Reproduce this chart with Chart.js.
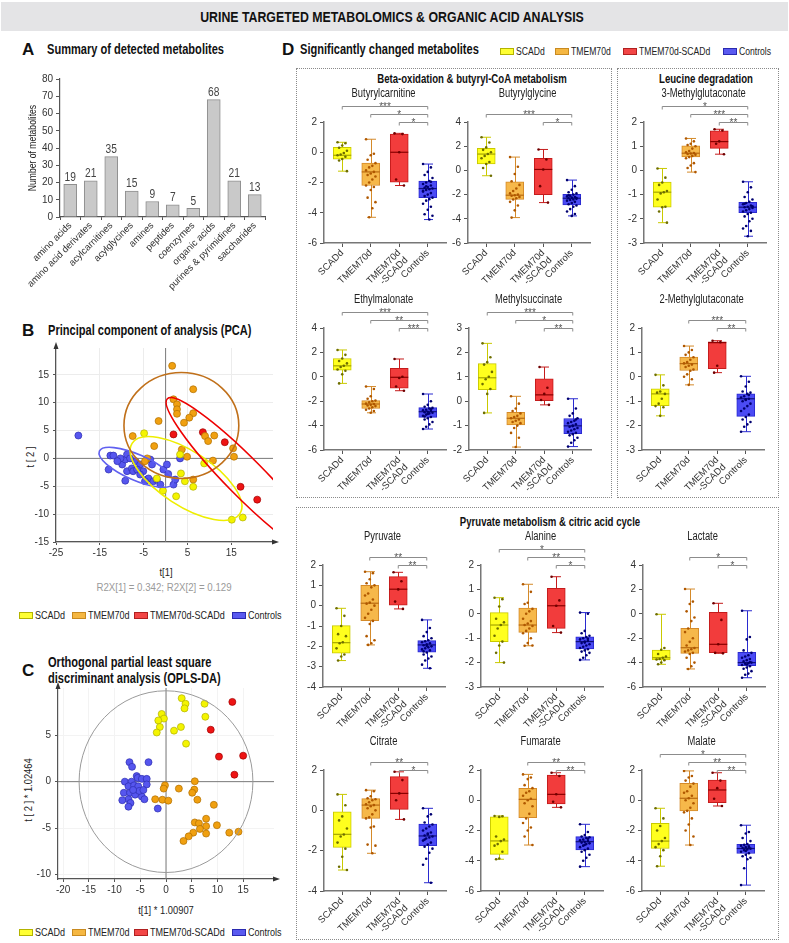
<!DOCTYPE html>
<html>
<head>
<meta charset="utf-8">
<script src="https://cdn.jsdelivr.net/npm/chart.js@4.4.1/dist/chart.umd.min.js"></script>
<style>
body { margin: 0; background: #fff; }
#page { position: relative; width: 789px; height: 943px; overflow: hidden; background: #fff;
  font-family: 'Liberation Sans', Arial, sans-serif; color: #111; }
canvas { position: absolute; }
.t { position: absolute; white-space: nowrap; line-height: 1; }
.sw { position: absolute; box-sizing: border-box; }
.box { position: absolute; border: 1px dotted #8a8a8a; box-sizing: border-box; }
</style>
</head>
<body>
<div id="page"></div>
<script>
// ---------- data ----------
const groupNames = ['SCADd', 'TMEM70d', 'TMEM70d-SCADd', 'Controls'];
const groupTicks = ['SCADd', 'TMEM70d', ['TMEM70d', '-SCADd'], 'Controls'];

// A: summary of detected metabolites
const classNames = ['amino acids', 'amino acid derivates', 'acylcarnitines', 'acylglycines', 'amines',
  'peptides', 'coenzymes', 'organic acids', 'purines & pyrimidines', 'saccharides'];
const classCounts = [19, 21, 35, 15, 9, 7, 5, 68, 21, 13];

// B: PCA scores t[1], t[2]
const pcaScad = [[-4.9,4.5],[3.3,0.7],[3.5,-2.7],[4.4,-4.1],[6.3,-5.1],[-0.6,-5.8],[2.4,-6.8],[8.8,-0.9],[15.1,-11],[17.6,-10.6],[-2,-3.6]];
const pcaTmem = [[1.5,16.6],[6.3,12.4],[1.8,10.6],[2.6,9.7],[2.6,8.8],[2.6,8],[6.3,8.1],[5.4,7.3],[4.2,6.4],[-1.6,6.7],[-7.5,4],[9,4],[11.1,4.1],[9.7,3.1],[-2.6,2.2],[3.7,1.6],[4.9,0.3],[15.4,1.8],[15.6,0.3],[-4.2,0],[-4.7,-0.5],[6.3,-3.8],[10.8,-0.4]];
const pcaTmemScad = [[1.8,4.3],[8.5,4.7],[13.5,2.9],[17.1,-5.1],[20.9,-7.4]];
const pcaCtrl = [[-19.9,4.1],[-12.6,0.5],[-11.9,0.5],[-13,-2],[-9.9,-1.1],[-9.2,-0.2],[-8.8,0.7],[-8.8,-2.3],[-9.2,-4.0],[-7.7,-1.8],[-7.4,-2.3],[-6.9,-0.5],[-5.8,-1.1],[-5.1,-2.3],[-4.3,-3.8],[-3.5,-0.2],[-3.1,-1.1],[-3.9,-3.6],[-2.8,-4.1],[-2,-3.8],[-1.2,-4.7],[-0.5,-2],[0.3,-1.1],[0.6,-2.8],[1.8,-4.7],[2.2,-3.8],[3.3,0],[-8.1,0],[-6.5,-2],[-5.8,-2.9],[-4.7,-4.1],[-10.3,0],[-11,-0.5]];
// group ellipses: centre and two semi-axis vectors, in score units
const pcaEllipseScad = [4.66, -3.6, 12.3, -6.3, -3.3, -4.1];
const pcaEllipseTmem = [3.6, 5.9, 13.1, 0, 0, 9.5];
const pcaEllipseTmemScad = [18.1, -3.4, 17.7, -14.1, 3.05, 2.4];
const pcaEllipseCtrl = [-6.7, -1.6, 8.4, -2.9, -1.2, -2.1];

// C: OPLS-DA scores
const oplsScad = [[3.05,9.0],[3.8,8.4],[3.6,7.9],[7.5,8.4],[7.65,7.0],[-0.84,7.3],[-0.4,6.8],[-1.5,6.6],[-1.2,5.9],[-1.8,5.3],[1.56,5.5],[2.9,5.9],[3.9,4.1]];
const oplsTmem = [[5.6,0.04],[-0.2,-0.4],[-0.45,-0.75],[2.5,-0.75],[5.5,-0.86],[5.1,-1.2],[-2.1,-1.9],[-0.7,-1.95],[0.45,-2.05],[6.1,-1.95],[9.3,-2.5],[5.6,-4.4],[6.4,-4.5],[7.8,-4.0],[7.8,-4.8],[9.9,-4.7],[6.6,-5.1],[7.8,-5.6],[5.3,-5.5],[4.4,-5.9],[3.4,-6.4],[12.3,-5.5],[14.1,-5.4]];
const oplsTmemScad = [[12.9,8.6],[8.7,5.6],[10.3,2.7],[15.0,2.8],[13.3,0.75]];
const oplsCtrl = [[-7.1,2.1],[-3.4,2.1],[-6.6,1.6],[-5.7,0.6],[-5.5,0.4],[-4.7,0.3],[-3.75,0.3],[-8.0,0.0],[-6.7,0.0],[-3.75,-0.3],[-7.3,-0.5],[-6.2,-0.4],[-5.4,-0.5],[-8.2,-1.2],[-7.0,-1.2],[-6.0,-1.4],[-4.7,-1.6],[-7.3,-1.9],[-8.5,-2.0],[-6.9,-2.3],[-7.3,-2.7],[-4.2,-1.9],[-1.6,-2.9],[-5.2,-1.0],[-6.4,-0.9],[-4.4,-0.9]];
const oplsEllipse = [0, 0, 16.9, 0, 0, 9.8];

// D: box stats per group [min, q1, median, q3, max] and individual values
const butyrylcarnitineBox = [[-1.25,-0.45,-0.2,0.33,0.66],[-4.3,-2.2,-1.3,-0.72,0.86],[-2.2,-1.97,0.0,1.2,1.25],[-4.45,-3.0,-2.4,-1.9,-0.78]];
const butyrylcarnitineDots = [
  [0.66,0.6,0.45,0.3,0.1,-0.05,-0.15,-0.2,-0.3,-0.45,-0.55,-1.25],
  [0.86,-0.1,-0.2,-0.5,-0.72,-0.9,-1.0,-1.2,-1.3,-1.4,-1.5,-1.6,-1.8,-2.0,-2.2,-2.3,-2.5,-3.0,-3.3,-3.7,-4.3],
  [1.25,1.2,0.0,-1.8,-2.2],
  [-0.78,-1.0,-1.3,-1.5,-1.7,-1.9,-2.0,-2.1,-2.2,-2.3,-2.35,-2.4,-2.45,-2.5,-2.6,-2.7,-2.8,-2.9,-3.0,-3.1,-3.2,-3.4,-3.6,-3.8,-4.1,-4.2,-4.45,-2.25,-2.55,-1.95]];
const butyrylglycineBox = [[-0.44,0.53,1.35,1.83,2.74],[-3.9,-2.39,-2.05,-0.94,1.1],[-2.66,-2.0,0.08,0.99,1.73],[-3.76,-2.85,-2.3,-1.97,-0.8]];
const butyrylglycineDots = [
  [2.74,2.3,1.9,1.7,1.5,1.35,1.2,1.0,0.7,0.53,0.2,-0.44],
  [1.1,0.3,-0.3,-0.9,-1.2,-1.5,-1.7,-1.9,-2.0,-2.05,-2.1,-2.2,-2.3,-2.4,-2.6,-2.9,-3.3,-3.9],
  [1.73,0.9,0.08,-1.3,-2.66],
  [-0.8,-1.3,-1.6,-1.8,-1.9,-2.0,-2.1,-2.15,-2.2,-2.25,-2.3,-2.35,-2.4,-2.45,-2.5,-2.6,-2.7,-2.8,-2.9,-3.0,-3.2,-3.4,-3.6,-3.76,-2.05,-2.28]];
const methylglutaconate3Box = [[-2.16,-1.52,-0.9,-0.48,0.08],[-0.07,0.56,0.71,1.02,1.32],[0.67,0.91,1.19,1.63,1.7],[-2.72,-1.75,-1.52,-1.32,-0.47]];
const methylglutaconate3Dots = [
  [0.08,-0.3,-0.5,-0.6,-0.85,-0.9,-0.95,-1.2,-1.5,-1.52,-1.7,-2.16],
  [1.32,1.2,1.1,1.05,1.0,0.9,0.8,0.75,0.72,0.7,0.68,0.65,0.6,0.55,0.5,0.3,0.2,0.1,-0.07],
  [1.7,1.65,1.2,1.1,0.67],
  [-0.47,-0.7,-0.9,-1.1,-1.2,-1.3,-1.35,-1.4,-1.45,-1.5,-1.52,-1.55,-1.6,-1.65,-1.7,-1.75,-1.8,-1.9,-2.0,-2.1,-2.3,-2.4,-2.5,-2.72,-1.38,-1.48]];
const ethylmalonateBox = [[-0.54,0.55,0.9,1.5,2.2],[-2.95,-2.6,-2.23,-1.95,-0.8],[-1.14,-0.94,-0.04,0.7,1.46],[-4.28,-3.32,-2.86,-2.53,-1.41]];
const ethylmalonateDots = [
  [2.2,1.8,1.5,1.3,1.1,0.9,0.8,0.6,0.5,0.2,-0.54],
  [-0.8,-1.0,-1.6,-1.8,-1.95,-2.0,-2.1,-2.2,-2.23,-2.3,-2.35,-2.4,-2.5,-2.6,-2.7,-2.8,-2.95],
  [1.46,0.0,-0.1,-0.8,-1.14],
  [-1.41,-2.0,-2.3,-2.45,-2.55,-2.6,-2.7,-2.75,-2.8,-2.86,-2.9,-2.95,-3.0,-3.1,-3.2,-3.3,-3.4,-3.5,-3.7,-3.9,-4.1,-4.28,-2.65,-3.05,-3.25]];
const methylsuccinateBox = [[-0.48,0.47,0.96,1.54,2.37],[-1.88,-0.97,-0.7,-0.46,0.2],[-0.15,0.02,0.26,0.92,1.4],[-1.86,-1.33,-1.01,-0.71,0.1]];
const methylsuccinateDots = [
  [2.37,1.8,1.6,1.5,1.2,1.0,0.9,0.7,0.5,0.3,-0.48],
  [0.2,-0.1,-0.3,-0.4,-0.5,-0.6,-0.65,-0.7,-0.75,-0.8,-0.85,-0.9,-1.0,-1.1,-1.3,-1.5,-1.88],
  [1.4,0.55,0.3,0.05,-0.15],
  [0.1,-0.3,-0.5,-0.6,-0.7,-0.8,-0.85,-0.9,-0.95,-1.0,-1.05,-1.1,-1.15,-1.2,-1.25,-1.3,-1.35,-1.4,-1.5,-1.6,-1.7,-1.86,-0.75,-1.02]];
const methylglutaconate2Box = [[-1.6,-1.18,-0.7,-0.49,0.08],[-0.33,0.26,0.54,0.81,1.26],[0.17,0.33,1.4,1.43,1.48],[-2.25,-1.62,-0.9,-0.7,0.02]];
const methylglutaconate2Dots = [
  [0.08,-0.35,-0.6,-0.65,-0.7,-0.9,-1.1,-1.2,-1.25,-1.6],
  [1.26,1.1,1.0,0.9,0.8,0.7,0.6,0.55,0.5,0.45,0.4,0.3,0.25,0.1,0.0,-0.1,-0.33],
  [1.48,1.42,0.45,0.17],
  [0.02,-0.2,-0.4,-0.6,-0.65,-0.7,-0.8,-0.85,-0.9,-0.95,-1.0,-1.1,-1.2,-1.3,-1.4,-1.55,-1.65,-1.75,-1.85,-1.95,-2.05,-2.25,-0.75,-0.92]];
const pyruvateBox = [[-2.7,-2.34,-1.82,-0.98,-0.13],[-1.93,-0.74,0.12,1.0,1.67],[-0.16,0.03,0.81,1.43,1.64],[-3.08,-2.29,-1.93,-1.72,-0.7]];
const pyruvateDots = [
  [-0.13,-0.5,-1.0,-1.4,-1.5,-1.8,-1.85,-2.1,-2.4,-2.5,-2.7],
  [1.67,1.6,1.3,1.1,1.0,0.9,0.6,0.5,0.3,0.15,0.1,0.0,-0.2,-0.4,-0.6,-0.75,-0.9,-1.5,-1.7,-1.85,-1.93],
  [1.64,1.2,0.8,0.2,-0.16],
  [-0.7,-1.1,-1.3,-1.5,-1.6,-1.7,-1.75,-1.8,-1.85,-1.9,-1.95,-2.0,-2.05,-2.1,-2.15,-2.2,-2.3,-2.4,-2.5,-2.6,-2.7,-2.9,-3.08,-1.98,-2.25]];
const alanineBox = [[-2.0,-1.14,-0.46,0.05,0.66],[-1.31,-0.76,-0.46,0.23,1.21],[-0.77,-0.6,0.33,1.04,1.52],[-1.89,-1.44,-1.14,-0.94,0.05]];
const alanineDots = [
  [0.66,0.6,0.3,-0.2,-0.35,-0.46,-0.6,-0.9,-1.14,-1.3,-1.6,-2.0],
  [1.21,0.9,0.45,0.4,0.2,0.1,0.0,-0.2,-0.3,-0.4,-0.46,-0.5,-0.6,-0.7,-0.8,-1.0,-1.2,-1.31,-1.3],
  [1.52,0.55,0.33,-0.5,-0.77],
  [0.05,0.0,-0.7,-0.8,-0.9,-0.95,-1.0,-1.05,-1.1,-1.14,-1.2,-1.25,-1.3,-1.35,-1.4,-1.45,-1.5,-1.55,-1.6,-1.7,-1.8,-1.89,-1.02,-1.18]];
const lactateBox = [[-4.14,-3.79,-3.6,-2.97,-0.04],[-4.52,-3.24,-2.78,-1.19,2.03],[-3.24,-3.19,-2.5,0.12,0.86],[-5.24,-4.25,-4.0,-3.16,0.25]];
const lactateDots = [
  [-0.04,-2.8,-2.95,-3.3,-3.5,-3.6,-3.7,-3.75,-3.8,-4.0,-4.14],
  [2.03,1.0,0.8,0.2,-0.3,-0.6,-1.2,-1.5,-2.0,-2.3,-2.6,-2.8,-2.9,-3.0,-3.1,-3.2,-3.3,-3.6,-4.0,-4.3,-4.52],
  [0.86,-0.5,-2.5,-3.2,-3.24],
  [0.25,-1.9,-2.1,-3.0,-3.2,-3.4,-3.5,-3.6,-3.7,-3.8,-3.9,-4.0,-4.05,-4.1,-4.2,-4.3,-4.4,-4.5,-4.7,-4.9,-5.0,-5.24,-3.95,-4.15]];
const citrateBox = [[-2.96,-1.84,-1.19,-0.07,0.79],[-2.13,-0.4,0.26,0.58,1.0],[-0.45,0.05,0.84,1.67,1.91],[-3.59,-1.75,-1.27,-0.68,0.1]];
const citrateDots = [
  [0.79,0.25,-0.3,-0.5,-0.9,-1.2,-1.3,-1.6,-1.9,-2.3,-2.8,-2.96],
  [1.0,0.95,0.7,0.6,0.55,0.5,0.4,0.3,0.26,0.2,0.1,0.0,-0.2,-0.35,-0.4,-0.8,-0.85,-1.7,-1.75,-2.13],
  [1.91,1.5,0.84,0.5,-0.45],
  [0.1,-0.2,-0.3,-0.6,-0.7,-0.8,-0.9,-1.0,-1.1,-1.2,-1.25,-1.3,-1.35,-1.4,-1.5,-1.6,-1.7,-1.8,-1.9,-2.1,-2.4,-2.7,-3.59,-1.15,-1.45]];
const fumarateBox = [[-3.9,-3.58,-2.69,-1.09,-1.04],[-2.96,-1.15,0.06,0.79,1.71],[-0.47,-0.25,0.39,1.67,1.82],[-4.39,-3.29,-2.74,-2.41,-1.59]];
const fumarateDots = [
  [-1.04,-1.06,-1.1,-2.4,-2.6,-2.7,-2.9,-3.0,-3.4,-3.85,-3.9],
  [1.71,1.5,1.4,1.0,0.8,0.6,0.5,0.3,0.1,0.0,-0.2,-0.4,-0.9,-1.2,-1.5,-1.8,-2.0,-2.4,-2.96],
  [1.82,1.6,0.4,-0.1,-0.47],
  [-1.59,-2.1,-2.3,-2.4,-2.45,-2.5,-2.6,-2.65,-2.7,-2.75,-2.8,-2.85,-2.9,-3.0,-3.1,-3.2,-3.3,-3.4,-3.6,-3.8,-4.0,-4.39,-2.55,-2.95]];
const malateBox = [[-4.36,-3.19,-2.7,-1.53,-0.53],[-2.96,-0.71,0.13,1.12,1.94],[-0.38,-0.16,0.68,1.34,1.82],[-5.61,-3.52,-3.19,-2.92,-1.65]];
const malateDots = [
  [-0.53,-1.2,-1.7,-2.0,-2.5,-2.7,-2.9,-3.1,-3.3,-3.7,-4.36],
  [1.94,1.6,1.5,1.3,1.1,0.9,0.6,0.5,0.3,0.13,0.0,-0.2,-0.5,-0.7,-0.8,-1.2,-1.6,-2.0,-2.4,-2.96],
  [1.82,1.3,0.8,0.1,-0.38],
  [-1.65,-2.1,-2.2,-2.5,-2.7,-2.9,-2.95,-3.0,-3.05,-3.1,-3.15,-3.2,-3.25,-3.3,-3.4,-3.5,-3.6,-3.7,-3.8,-3.9,-4.5,-5.61,-3.12,-3.35]];

// significance brackets: [from group, to group, stars], top one first
const butyrylcarnitineSig = [[0,3,'***'],[1,3,'*'],[2,3,'*']];
const butyrylglycineSig = [[0,3,'***'],[2,3,'*']];
const methylglutaconate3Sig = [[0,3,'*'],[1,3,'***'],[2,3,'**']];
const ethylmalonateSig = [[0,3,'***'],[1,3,'**'],[2,3,'***']];
const methylsuccinateSig = [[0,3,'***'],[1,3,'*'],[2,3,'**']];
const methylglutaconate2Sig = [[1,3,'***'],[2,3,'**']];
const pyruvateSig = [[1,3,'**'],[2,3,'**']];
const alanineSig = [[0,3,'*'],[1,3,'**'],[2,3,'*']];
const lactateSig = [[1,3,'*'],[2,3,'*']];
const citrateSig = [[1,3,'**'],[2,3,'*']];
const fumarateSig = [[1,3,'**'],[2,3,'**']];
const malateSig = [[0,3,'*'],[1,3,'**'],[2,3,'**']];

// ---------- styles ----------
const FONT = "'Liberation Sans', Arial, sans-serif";
const boxFill = ['#ffff1e', '#f6b84a', '#f23c3c', '#4b4bf5'];
const boxLine = ['#c9c900', '#d48a2a', '#c41c1c', '#2a2ad0'];
const medianLine = ['#a5a500', '#b86a10', '#8a0000', '#10107a'];
const dotColors = ['#6e6e00', '#b05800', '#700000', '#000070'];
const pcaFill = ['#f4f400', '#f0a010', '#ee1414', '#5656ee'];
const pcaEdge = ['#b0b000', '#b06e00', '#a00000', '#2e2eb0'];
const ellipseColors = ['#eeee00', '#c0701a', '#ee0000', '#6060f0'];
const legendFill = ['#ffff33', '#f5b742', '#f24646', '#5a5af0'];
const legendEdge = ['#b3b300', '#c88a20', '#b02020', '#2a2ab0'];
const axisCol = '#555';

Chart.defaults.font.family = FONT;
Chart.defaults.color = '#333';

const page = document.getElementById('page');

function addCanvas(left, top, w, h) {
  const c = document.createElement('canvas');
  c.width = w; c.height = h;
  c.style.left = left + 'px'; c.style.top = top + 'px';
  c.style.width = w + 'px'; c.style.height = h + 'px';
  page.appendChild(c);
  return c;
}

// narrow look: squeeze the text horizontally
function txt(s, x, y, css, align, k) {
  k = k || 0.8;
  const d = document.createElement('div');
  d.className = 't';
  d.textContent = s;
  d.style.left = x + 'px';
  d.style.top = y + 'px';
  if (align === 'c') {
    d.style.transform = `translate(-50%,-50%) scaleX(${k})`;
  } else if (align === 'rot') {
    d.style.transform = `translate(-50%,-50%) rotate(-90deg) scaleX(${k})`;
  } else {
    d.style.transformOrigin = 'left center';
    d.style.transform = `translateY(-50%) scaleX(${k})`;
  }
  if (css) d.style.cssText += css;
  page.appendChild(d);
  return d;
}

function narrowText(ctx, s, x, y, k) {
  ctx.save();
  ctx.translate(x, y);
  ctx.scale(k, 1);
  ctx.fillText(s, 0, 0);
  ctx.restore();
}

function swatch(x, y, w, h, fill, edge) {
  const d = document.createElement('div');
  d.className = 'sw';
  d.style.cssText += `left:${x}px;top:${y}px;width:${w}px;height:${h}px;background:${fill};border:1px solid ${edge};`;
  page.appendChild(d);
}

function legendRow(xs, y, size) {
  groupNames.forEach((g, i) => {
    swatch(xs[i], y - 3, 14, 7, legendFill[i], legendEdge[i]);
    txt(g, xs[i] + 16, y, `font-size:${size}px;color:#222;`, 'l', 0.82);
  });
}

// ---------- page text ----------
const bar = document.createElement('div');
bar.style.cssText = 'position:absolute;left:1px;top:2px;width:787px;height:29px;background:#e4e4e6;';
page.appendChild(bar);
txt('URINE TARGETED METABOLOMICS & ORGANIC ACID ANALYSIS', 392, 17, 'font-weight:bold;font-size:14.5px;color:#111;', 'c', 0.85);

const letterCss = "font-weight:bold;font-size:17px;color:#111;";
const headCss = 'font-weight:bold;font-size:14px;color:#111;';
txt('A', 22, 49, letterCss, 'l', 1);
txt('Summary of detected metabolites', 47, 49, headCss, 'l', 0.79);
txt('B', 22, 330, letterCss, 'l', 1);
txt('Principal component of analysis (PCA)', 48, 330, headCss, 'l', 0.79);
txt('C', 22, 670, letterCss, 'l', 1);
txt('Orthogonal partial least square', 48, 662, headCss, 'l', 0.79);
txt('discriminant analysis (OPLS-DA)', 48, 678, headCss, 'l', 0.79);
txt('D', 282, 49, letterCss, 'l', 1);
txt('Significantly changed metabolites', 300, 49, headCss, 'l', 0.79);

txt('t[1]', 166, 572, 'font-size:11px;color:#222;', 'c', 0.85);
txt('R2X[1] = 0.342; R2X[2] = 0.129', 164, 587, 'font-size:11px;color:#9a9a9a;', 'c', 0.88);
txt('t [ 2 ]', 30, 457, 'font-size:11px;color:#222;', 'rot', 0.85);
txt('t[1] * 1.00907', 166, 910, 'font-size:11px;color:#222;', 'c', 0.85);
txt('t [ 2 ] * 1.02464', 28, 790, 'font-size:11px;color:#222;', 'rot', 0.85);
legendRow([19, 72, 134, 232], 615, 11);
legendRow([19, 72, 134, 232], 932, 11);
legendRow([500, 555, 623, 723], 51, 10.5);

function dashedBox(x1, y1, x2, y2) {
  const d = document.createElement('div');
  d.className = 'box';
  d.style.cssText += `left:${x1}px;top:${y1}px;width:${x2 - x1}px;height:${y2 - y1}px;`;
  page.appendChild(d);
}
dashedBox(296, 68, 612, 498);
dashedBox(617, 68, 779, 498);
dashedBox(296, 507, 779, 940);
const secCss = 'font-weight:bold;font-size:12px;color:#111;';
txt('Beta-oxidation & butyryl-CoA metabolism', 472, 79, secCss, 'c', 0.8);
txt('Leucine degradation', 706, 79, secCss, 'c', 0.8);
txt('Pyruvate metabolism & citric acid cycle', 550, 522, secCss, 'c', 0.8);

// ---------- A: bar chart ----------
new Chart(addCanvas(0, 70, 278, 225), {
  type: 'bar',
  data: {
    labels: classNames,
    datasets: [{ data: classCounts, backgroundColor: '#c9c9c9', borderColor: '#8e8e8e', borderWidth: 1, borderSkipped: 'bottom', barThickness: 13 }]
  },
  options: {
    responsive: false, animation: false, events: [],
    layout: { padding: { top: 8, right: 13, left: 0, bottom: 0 } },
    plugins: { legend: { display: false }, tooltip: { enabled: false } },
    scales: {
      x: {
        afterFit: s => { s.height = 78; },
        grid: { drawOnChartArea: false, tickLength: 3, color: axisCol },
        border: { color: axisCol, width: 1.2 },
        ticks: { autoSkip: false, maxRotation: 45, minRotation: 45, font: { size: 9.5 }, color: '#333', padding: 0 }
      },
      y: {
        min: 0, max: 80,
        afterFit: s => { s.width = 60; },
        grid: { drawOnChartArea: false, tickLength: 4, color: axisCol },
        border: { color: axisCol, width: 1.2 },
        ticks: { stepSize: 10, font: { size: 10 }, color: '#333', padding: 3 }
      }
    }
  },
  plugins: [{
    id: 'barDecor',
    afterDatasetsDraw(chart) {
      const { ctx } = chart;
      ctx.save();
      ctx.font = `12px ${FONT}`;
      ctx.fillStyle = '#444';
      ctx.textAlign = 'center';
      ctx.textBaseline = 'bottom';
      chart.getDatasetMeta(0).data.forEach((el, i) => narrowText(ctx, String(classCounts[i]), el.x, el.y - 1, 0.85));
      ctx.translate(33, (chart.chartArea.top + chart.chartArea.bottom) / 2);
      ctx.rotate(-Math.PI / 2);
      ctx.font = `11px ${FONT}`;
      ctx.fillStyle = '#222';
      ctx.textBaseline = 'middle';
      narrowText(ctx, 'Number of metabolites', 0, 0, 0.78);
      ctx.restore();
    }
  }]
});

// ---------- B & C: score plots ----------
function drawEllipse(chart, e, color, width) {
  const { ctx, chartArea: a, scales: { x, y } } = chart;
  const cx = x.getPixelForValue(e[0]), cy = y.getPixelForValue(e[1]);
  const ax = x.getPixelForValue(e[0] + e[2]) - cx, ay = y.getPixelForValue(e[1] + e[3]) - cy;
  const bx = x.getPixelForValue(e[0] + e[4]) - cx, by = y.getPixelForValue(e[1] + e[5]) - cy;
  ctx.save();
  ctx.beginPath();
  ctx.rect(a.left, a.top, a.right - a.left, a.bottom - a.top);
  ctx.clip();
  ctx.beginPath();
  ctx.save();
  ctx.transform(ax, ay, bx, by, cx, cy);
  ctx.arc(0, 0, 1, 0, Math.PI * 2);
  ctx.restore();
  ctx.strokeStyle = color;
  ctx.lineWidth = width;
  ctx.stroke();
  ctx.restore();
}

function scorePlot(canvas, sets, xr, yr, xTicks, yTicks, xw, xh, ellipses, ellipseCols, ellipseWidth, gridCol) {
  new Chart(canvas, {
    type: 'scatter',
    data: {
      datasets: sets.map((d, i) => ({
        data: d, pointRadius: 3.5, pointBorderWidth: 0.7,
        pointBackgroundColor: pcaFill[i], pointBorderColor: pcaEdge[i]
      }))
    },
    options: {
      responsive: false, animation: false, events: [],
      layout: { padding: { top: 10, right: canvas.width - xw[1], left: 0, bottom: 0 } },
      plugins: { legend: { display: false }, tooltip: { enabled: false } },
      scales: {
        x: {
          type: 'linear', min: xr[0], max: xr[1],
          afterBuildTicks: s => { s.ticks = xTicks.map(v => ({ value: v })); },
          afterFit: s => { s.height = xh; },
          grid: { color: gridCol, tickColor: axisCol, tickLength: 3 },
          border: { color: axisCol, width: 1.2 },
          ticks: { font: { size: 10 }, color: '#333', padding: 2 }
        },
        y: {
          min: yr[0], max: yr[1],
          afterBuildTicks: s => { s.ticks = yTicks.map(v => ({ value: v })); },
          afterFit: s => { s.width = xw[0]; },
          grid: { color: gridCol, tickColor: axisCol, tickLength: 3 },
          border: { color: axisCol, width: 1.2 },
          ticks: { font: { size: 10 }, color: '#333', padding: 4 }
        }
      }
    },
    plugins: [{
      id: 'scoreDecor',
      beforeDatasetsDraw(chart) {
        const { ctx, chartArea: a, scales: { x, y } } = chart;
        const x0 = x.getPixelForValue(0), y0 = y.getPixelForValue(0);
        ctx.save();
        ctx.strokeStyle = '#7a7a7a';
        ctx.lineWidth = 1;
        ctx.beginPath();
        ctx.moveTo(x0, a.top); ctx.lineTo(x0, a.bottom);
        ctx.moveTo(a.left, y0); ctx.lineTo(a.right, y0);
        ctx.stroke();
        ctx.restore();
      },
      afterDatasetsDraw(chart) {
        ellipses.forEach((e, i) => drawEllipse(chart, e, ellipseCols[i], ellipseWidth));
      },
      afterDraw(chart) {
        const { ctx, chartArea: a } = chart;
        ctx.save();
        ctx.fillStyle = '#333';
        ctx.beginPath();
        ctx.moveTo(a.left, a.top - 6); ctx.lineTo(a.left - 2.5, a.top + 1); ctx.lineTo(a.left + 2.5, a.top + 1);
        ctx.closePath(); ctx.fill();
        ctx.beginPath();
        ctx.moveTo(a.right + 6, a.bottom); ctx.lineTo(a.right - 1, a.bottom - 2.5); ctx.lineTo(a.right - 1, a.bottom + 2.5);
        ctx.closePath(); ctx.fill();
        ctx.restore();
      }
    }]
  });
}

scorePlot(addCanvas(0, 338, 282, 230), [pcaScad, pcaTmem, pcaTmemScad, pcaCtrl],
  [-25, 24.5], [-15, 19.8], [-25, -15, -5, 5, 15], [-15, -10, -5, 0, 5, 10, 15],
  [56, 273], 26,
  [pcaEllipseCtrl, pcaEllipseScad, pcaEllipseTmem, pcaEllipseTmemScad],
  [ellipseColors[3], ellipseColors[0], ellipseColors[1], ellipseColors[2]], 1.6, '#ececec');

scorePlot(addCanvas(0, 678, 282, 228), [oplsScad, oplsTmem, oplsTmemScad, oplsCtrl],
  [-21, 21], [-10.5, 10.1], [-20, -15, -10, -5, 0, 5, 10, 15], [-10, -5, 0, 5],
  [58, 274], 27, [oplsEllipse], ['#9a9a9a'], 1, '#f3f3f3');

// ---------- D: box plots ----------
function jit(i) { return (((i * 5) % 7) - 3) * 0.055; }

function boxDecor(o) {
  return {
    id: 'boxDecor',
    beforeDatasetsDraw(chart) {
      const { ctx, scales: { x, y } } = chart;
      ctx.save();
      ctx.lineWidth = 1;
      o.box.forEach((b, g) => {
        const px = Math.round(x.getPixelForValue(g)) + 0.5;
        ctx.strokeStyle = boxLine[g];
        ctx.beginPath();
        ctx.moveTo(px, y.getPixelForValue(b[0]));
        ctx.lineTo(px, y.getPixelForValue(b[4]));
        [b[0], b[4]].forEach(v => {
          const py = y.getPixelForValue(v);
          ctx.moveTo(px - 4.5, py); ctx.lineTo(px + 4.5, py);
        });
        ctx.stroke();
      });
      ctx.restore();
    },
    afterDatasetDraw(chart, args) {
      if (args.meta.type !== 'bar') return;
      const { ctx, scales: { x, y } } = chart;
      ctx.save();
      ctx.lineWidth = 1.2;
      o.box.forEach((b, g) => {
        const px = x.getPixelForValue(g), py = y.getPixelForValue(b[2]);
        ctx.strokeStyle = medianLine[g];
        ctx.beginPath();
        ctx.moveTo(px - 9, py); ctx.lineTo(px + 9, py);
        ctx.stroke();
      });
      ctx.restore();
    },
    afterDraw(chart) {
      const { ctx, chartArea: a, scales: { x } } = chart;
      ctx.save();
      ctx.font = `12px ${FONT}`;
      ctx.fillStyle = '#222';
      ctx.textAlign = 'center';
      ctx.textBaseline = 'middle';
      narrowText(ctx, o.title, x.getPixelForValue(1.45), a.top - 28, 0.78);
      const n = o.sig.length;
      o.sig.forEach((s, i) => {
        const yy = Math.round(a.top - 8 * (n - 1 - i)) + 0.5;
        const x1 = x.getPixelForValue(s[0]), x2 = x.getPixelForValue(s[1]);
        ctx.strokeStyle = '#8c8c8c';
        ctx.lineWidth = 1;
        ctx.beginPath();
        ctx.moveTo(x1, yy + 3); ctx.lineTo(x1, yy); ctx.lineTo(x2, yy); ctx.lineTo(x2, yy + 3);
        ctx.stroke();
        ctx.font = `10px ${FONT}`;
        ctx.fillStyle = '#555';
        ctx.textBaseline = 'alphabetic';
        ctx.fillText(s[2], (x1 + x2) / 2, yy + 3);
      });
      ctx.restore();
    }
  };
}

function boxPlot(o) {
  const AW = 36, PT = 44, PR = 8, XH = 64, CW = 122;
  const H = o.bottom - o.top;
  const cv = addCanvas(o.x - AW, o.top - PT, AW + CW + PR, PT + H + XH);
  const sets = o.dots.map((vals, g) => ({
    type: 'scatter', order: 0,
    data: vals.map((v, i) => ({ x: g + jit(i), y: v })),
    pointRadius: 1.3, pointBorderWidth: 0,
    pointBackgroundColor: dotColors[g]
  }));
  sets.push({
    type: 'bar', order: 1,
    data: o.box.map((b, g) => ({ x: g, y: [b[1], b[3]] })),
    backgroundColor: boxFill, borderColor: boxLine, borderWidth: 1, borderSkipped: false, barThickness: 18
  });
  new Chart(cv, {
    type: 'bar',
    data: { datasets: sets },
    options: {
      responsive: false, animation: false, events: [],
      layout: { padding: { top: PT, right: PR, left: 0, bottom: 0 } },
      plugins: { legend: { display: false }, tooltip: { enabled: false } },
      scales: {
        x: {
          type: 'linear', min: -0.64, max: 3.64, offset: false,
          afterBuildTicks: s => { s.ticks = [0, 1, 2, 3].map(v => ({ value: v })); },
          afterFit: s => { s.height = XH; },
          grid: { drawOnChartArea: false, offset: false, tickLength: 4, color: axisCol },
          border: { color: '#777', width: 1.5 },
          ticks: { callback: v => groupTicks[v], autoSkip: false, maxRotation: 45, minRotation: 45, font: { size: 9.5, lineHeight: 1.05 }, color: '#333', padding: 1 }
        },
        y: {
          min: o.min, max: o.max,
          afterBuildTicks: s => {
            const t = [];
            for (let v = o.min; v <= o.max + 1e-9; v += o.step) t.push({ value: v });
            s.ticks = t;
          },
          afterFit: s => { s.width = AW; },
          grid: { drawOnChartArea: false, tickLength: 4, color: axisCol },
          border: { color: '#777', width: 1.5 },
          ticks: { font: { size: 10 }, color: '#333', padding: 3 }
        }
      }
    },
    plugins: [boxDecor(o)]
  });
}

boxPlot({ title: 'Butyrylcarnitine', x: 324, top: 122, bottom: 243, min: -6, max: 2, step: 2, box: butyrylcarnitineBox, dots: butyrylcarnitineDots, sig: butyrylcarnitineSig });
boxPlot({ title: 'Butyrylglycine', x: 468, top: 122, bottom: 243, min: -6, max: 4, step: 2, box: butyrylglycineBox, dots: butyrylglycineDots, sig: butyrylglycineSig });
boxPlot({ title: '3-Methylglutaconate', x: 644, top: 122, bottom: 243, min: -3, max: 2, step: 1, box: methylglutaconate3Box, dots: methylglutaconate3Dots, sig: methylglutaconate3Sig });
boxPlot({ title: 'Ethylmalonate', x: 324, top: 328, bottom: 450, min: -6, max: 4, step: 2, box: ethylmalonateBox, dots: ethylmalonateDots, sig: ethylmalonateSig });
boxPlot({ title: 'Methylsuccinate', x: 469, top: 328, bottom: 450, min: -2, max: 3, step: 1, box: methylsuccinateBox, dots: methylsuccinateDots, sig: methylsuccinateSig });
boxPlot({ title: '2-Methylglutaconate', x: 642, top: 328, bottom: 450, min: -3, max: 2, step: 1, box: methylglutaconate2Box, dots: methylglutaconate2Dots, sig: methylglutaconate2Sig });
boxPlot({ title: 'Pyruvate', x: 323, top: 565, bottom: 687, min: -4, max: 2, step: 1, box: pyruvateBox, dots: pyruvateDots, sig: pyruvateSig });
boxPlot({ title: 'Alanine', x: 481, top: 565, bottom: 687, min: -3, max: 2, step: 1, box: alanineBox, dots: alanineDots, sig: alanineSig });
boxPlot({ title: 'Lactate', x: 643, top: 565, bottom: 687, min: -6, max: 4, step: 2, box: lactateBox, dots: lactateDots, sig: lactateSig });
boxPlot({ title: 'Citrate', x: 324, top: 770, bottom: 891, min: -4, max: 2, step: 2, box: citrateBox, dots: citrateDots, sig: citrateSig });
boxPlot({ title: 'Fumarate', x: 481, top: 770, bottom: 891, min: -6, max: 2, step: 2, box: fumarateBox, dots: fumarateDots, sig: fumarateSig });
boxPlot({ title: 'Malate', x: 642, top: 770, bottom: 891, min: -6, max: 2, step: 2, box: malateBox, dots: malateDots, sig: malateSig });
</script>
</body>
</html>
